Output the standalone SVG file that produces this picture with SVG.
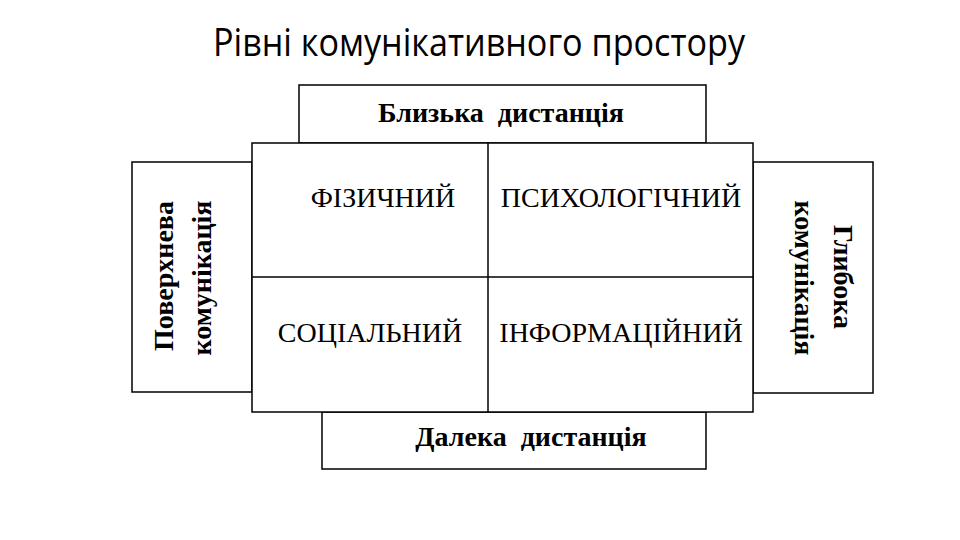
<svg xmlns="http://www.w3.org/2000/svg" width="960" height="540" viewBox="0 0 960 540">
<style>
.box{fill:#fff;stroke:#000;stroke-width:1.5}
.lbl{font-family:"Liberation Serif","Times New Roman",serif;font-weight:bold;font-size:28px;fill:#000;text-anchor:middle}
.cell{font-family:"Liberation Serif","Times New Roman",serif;font-size:28px;fill:#000;text-anchor:middle}
.title{font-family:"Open Sans","Noto Sans",sans-serif;font-size:38px;fill:#000}
</style>
<rect width="960" height="540" fill="#fff"/>
<text class="title" x="213" y="56" textLength="532" lengthAdjust="spacingAndGlyphs">Рівні комунікативного простору</text>
<g id="near">
<rect class="box" x="299" y="85" width="407" height="58"/>
<text class="lbl" x="501" y="122" xml:space="preserve">Близька  дистанція</text>
</g>
<g id="far">
<rect class="box" x="322" y="412" width="384" height="57"/>
<text class="lbl" x="531" y="446" xml:space="preserve">Далека  дистанція</text>
</g>
<g id="surface">
<rect class="box" x="132" y="162" width="120" height="230"/>
<text class="lbl" transform="translate(173,276) rotate(-90)">Поверхнева</text>
<text class="lbl" transform="translate(211,278) rotate(-90)">комунікація</text>
</g>
<g id="deep">
<rect class="box" x="753" y="162" width="120" height="231"/>
<text class="lbl" transform="translate(834,277) rotate(90)">Глибока</text>
<text class="lbl" transform="translate(795,278) rotate(90)">комунікація</text>
</g>
<g id="grid">
<rect class="box" x="252" y="143" width="501" height="269"/>
<line x1="488" y1="143" x2="488" y2="412" stroke="#000" stroke-width="1.5"/>
<line x1="252" y1="277" x2="753" y2="277" stroke="#000" stroke-width="1.5"/>
</g>
<g id="physical"><text class="cell" x="383" y="207">ФІЗИЧНИЙ</text></g>
<g id="psych"><text class="cell" x="621" y="207">ПСИХОЛОГІЧНИЙ</text></g>
<g id="social"><text class="cell" x="370" y="342">СОЦІАЛЬНИЙ</text></g>
<g id="info"><text class="cell" x="621" y="342">ІНФОРМАЦІЙНИЙ</text></g>
<g id="connectors"></g>
</svg>
